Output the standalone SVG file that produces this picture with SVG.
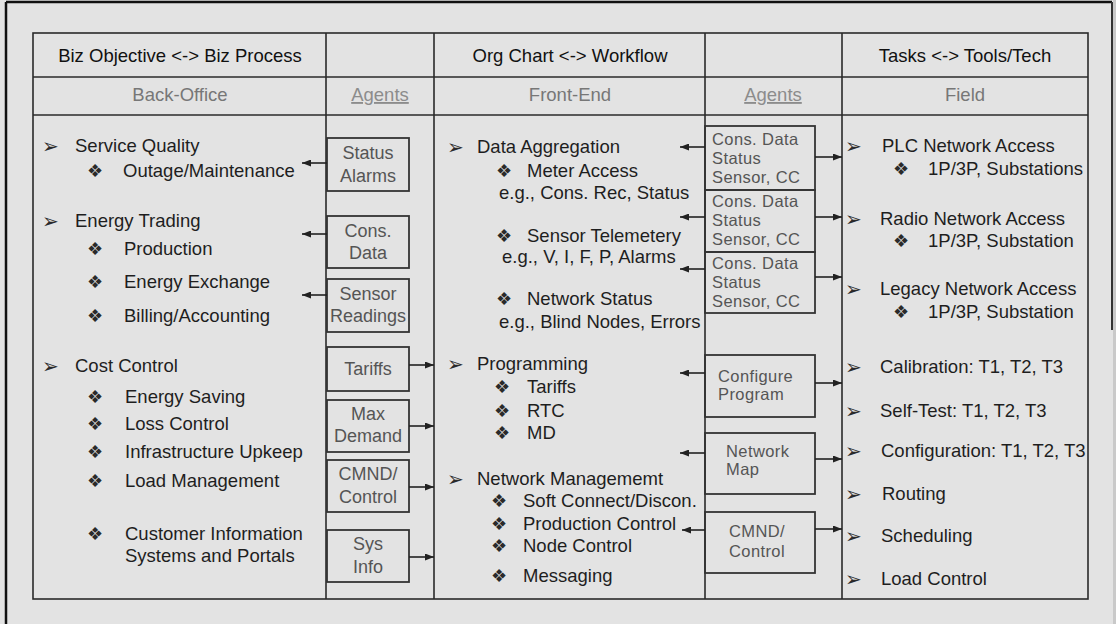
<svg xmlns="http://www.w3.org/2000/svg" width="1116" height="624" viewBox="0 0 1116 624">
<defs>
<style>
.t{font-family:"Liberation Sans",Arial,sans-serif;font-size:18.5px;fill:#1e1e1e}
.h{font-family:"Liberation Sans",Arial,sans-serif;font-size:18.5px;fill:#111;text-anchor:middle}
.sub{font-family:"Liberation Sans",Arial,sans-serif;font-size:18.5px;fill:#777;text-anchor:middle}
.ag{font-family:"Liberation Sans",Arial,sans-serif;font-size:18.5px;fill:#8c8c8c;text-anchor:middle;text-decoration:underline}
.bx{font-family:"Liberation Sans",Arial,sans-serif;font-size:18px;fill:#555}
.bm{font-family:"Liberation Sans",Arial,sans-serif;font-size:16.5px;letter-spacing:0.4px;fill:#555}
.bc{text-anchor:middle}
.b{font-family:"DejaVu Sans",sans-serif;font-size:20px;fill:#2a2a2a}
.d{font-family:"DejaVu Sans",sans-serif;font-size:18px;font-weight:bold;fill:#2a2a2a}
.box{fill:none;stroke:#333;stroke-width:1.8}
.grid{stroke:#2a2a2a;stroke-width:1.6;fill:none}
.con line{stroke:#222;stroke-width:1.6}
</style>
<marker id="ah" markerUnits="userSpaceOnUse" markerWidth="9" markerHeight="7" refX="9" refY="3.5" orient="auto">
<path d="M0,0 L9,3.5 L0,7 z" fill="#222"/>
</marker>
</defs>
<rect x="0" y="0" width="1116" height="624" fill="#e3e3e3"/>
<rect x="1113" y="0" width="3" height="624" fill="#c9c9c9"/>
<line x1="6" y1="2" x2="1112" y2="2" stroke="#111" stroke-width="2.5"/>
<line x1="6" y1="2" x2="6" y2="624" stroke="#111" stroke-width="2.5"/>
<line x1="1112" y1="2" x2="1112" y2="330" stroke="#333" stroke-width="2"/>

<g id="table">
<rect class="grid" x="33" y="33" width="1055" height="566" stroke-width="2.4"/>
<line class="grid" x1="33" y1="77" x2="1088" y2="77" stroke-width="2.2"/>
<line class="grid" x1="33" y1="115" x2="1088" y2="115" stroke-width="2.2"/>
<line class="grid" x1="326" y1="33" x2="326" y2="599"/>
<line class="grid" x1="434" y1="33" x2="434" y2="599"/>
<line class="grid" x1="705" y1="33" x2="705" y2="599"/>
<line class="grid" x1="842" y1="33" x2="842" y2="599"/>
</g>

<g id="headers">
<text class="h" x="180" y="62">Biz Objective &lt;-&gt; Biz Process</text>
<text class="h" x="570" y="62">Org Chart &lt;-&gt; Workflow</text>
<text class="h" x="965" y="62">Tasks &lt;-&gt; Tools/Tech</text>
<text class="sub" x="180" y="101">Back-Office</text>
<text class="ag" x="380" y="101">Agents</text>
<text class="sub" x="570" y="101">Front-End</text>
<text class="ag" x="773" y="101">Agents</text>
<text class="sub" x="965" y="101">Field</text>
</g>

<g id="back-office">
<text class="b" x="42" y="153">➢</text><text class="t" x="75" y="152">Service Quality</text>
<text class="d" x="87" y="177">❖</text><text class="t" x="123" y="177">Outage/Maintenance</text>
<text class="b" x="42" y="228">➢</text><text class="t" x="75" y="227">Energy Trading</text>
<text class="d" x="87" y="255">❖</text><text class="t" x="124" y="255">Production</text>
<text class="d" x="87" y="288">❖</text><text class="t" x="124" y="288">Energy Exchange</text>
<text class="d" x="87" y="322">❖</text><text class="t" x="124" y="322">Billing/Accounting</text>
<text class="b" x="42" y="373">➢</text><text class="t" x="75" y="372">Cost Control</text>
<text class="d" x="87" y="403">❖</text><text class="t" x="125" y="403">Energy Saving</text>
<text class="d" x="87" y="430">❖</text><text class="t" x="125" y="430">Loss Control</text>
<text class="d" x="87" y="458">❖</text><text class="t" x="125" y="458">Infrastructure Upkeep</text>
<text class="d" x="87" y="487">❖</text><text class="t" x="125" y="487">Load Management</text>
<text class="d" x="87" y="540">❖</text><text class="t" x="125" y="540">Customer Information</text>
<text class="t" x="125" y="562">Systems and Portals</text>
</g>

<g id="agent-status-alarms"><rect class="box" x="327" y="138" width="82" height="53"/><text class="bx bc" x="368" y="159">Status</text><text class="bx bc" x="368" y="182">Alarms</text></g>
<g id="agent-cons-data"><rect class="box" x="327" y="216" width="82" height="52"/><text class="bx bc" x="368" y="237">Cons.</text><text class="bx bc" x="368" y="259">Data</text></g>
<g id="agent-sensor-readings"><rect class="box" x="327" y="279" width="82" height="53"/><text class="bx bc" x="368" y="300">Sensor</text><text class="bx bc" x="368" y="322">Readings</text></g>
<g id="agent-tariffs"><rect class="box" x="327" y="347" width="82" height="44"/><text class="bx bc" x="368" y="375">Tariffs</text></g>
<g id="agent-max-demand"><rect class="box" x="327" y="400" width="82" height="52"/><text class="bx bc" x="368" y="420">Max</text><text class="bx bc" x="368" y="442">Demand</text></g>
<g id="agent-cmnd-left"><rect class="box" x="327" y="460" width="82" height="52"/><text class="bx bc" x="368" y="480">CMND/</text><text class="bx bc" x="368" y="503">Control</text></g>
<g id="agent-sys-info"><rect class="box" x="327" y="530" width="82" height="52"/><text class="bx bc" x="368" y="550">Sys</text><text class="bx bc" x="368" y="573">Info</text></g>

<g id="front-end">
<text class="b" x="447" y="154">➢</text><text class="t" x="477" y="153">Data Aggregation</text>
<text class="d" x="496" y="177">❖</text><text class="t" x="527" y="177">Meter Access</text>
<text class="t" x="499" y="199">e.g., Cons. Rec, Status</text>
<text class="d" x="496" y="242">❖</text><text class="t" x="527" y="242">Sensor Telemetery</text>
<text class="t" x="502" y="263">e.g., V, I, F, P, Alarms</text>
<text class="d" x="496" y="305">❖</text><text class="t" x="527" y="305">Network Status</text>
<text class="t" x="499" y="328">e.g., Blind Nodes, Errors</text>
<text class="b" x="447" y="371">➢</text><text class="t" x="477" y="370">Programming</text>
<text class="d" x="494" y="393">❖</text><text class="t" x="527" y="393">Tariffs</text>
<text class="d" x="494" y="417">❖</text><text class="t" x="527" y="417">RTC</text>
<text class="d" x="494" y="439">❖</text><text class="t" x="527" y="439">MD</text>
<text class="b" x="447" y="486">➢</text><text class="t" x="477" y="485">Network Managememt</text>
<text class="d" x="491" y="507">❖</text><text class="t" x="523" y="507">Soft Connect/Discon.</text>
<text class="d" x="491" y="530">❖</text><text class="t" x="523" y="530">Production Control</text>
<text class="d" x="491" y="552">❖</text><text class="t" x="523" y="552">Node Control</text>
<text class="d" x="491" y="582">❖</text><text class="t" x="523" y="582">Messaging</text>
</g>

<g id="agent-data-1"><rect class="box" x="705" y="126" width="110" height="64"/><text class="bm" x="712" y="145">Cons. Data</text><text class="bm" x="712" y="164">Status</text><text class="bm" x="712" y="183">Sensor, CC</text></g>
<g id="agent-data-2"><rect class="box" x="705" y="190" width="110" height="62"/><text class="bm" x="712" y="207">Cons. Data</text><text class="bm" x="712" y="226">Status</text><text class="bm" x="712" y="245">Sensor, CC</text></g>
<g id="agent-data-3"><rect class="box" x="705" y="252" width="110" height="61"/><text class="bm" x="712" y="269">Cons. Data</text><text class="bm" x="712" y="288">Status</text><text class="bm" x="712" y="307">Sensor, CC</text></g>
<g id="agent-configure"><rect class="box" x="705" y="355" width="110" height="62"/><text class="bm" x="718" y="382">Configure</text><text class="bm" x="718" y="400">Program</text></g>
<g id="agent-network-map"><rect class="box" x="705" y="433" width="110" height="61"/><text class="bm" x="726" y="457">Network</text><text class="bm" x="726" y="475">Map</text></g>
<g id="agent-cmnd-right"><rect class="box" x="705" y="512" width="110" height="61"/><text class="bm" x="729" y="537">CMND/</text><text class="bm" x="729" y="557">Control</text></g>

<g id="field">
<text class="b" x="845" y="153">➢</text><text class="t" x="882" y="152">PLC Network Access</text>
<text class="d" x="893" y="175">❖</text><text class="t" x="928" y="175">1P/3P, Substations</text>
<text class="b" x="845" y="226">➢</text><text class="t" x="880" y="225">Radio Network Access</text>
<text class="d" x="893" y="247">❖</text><text class="t" x="928" y="247">1P/3P, Substation</text>
<text class="b" x="845" y="296">➢</text><text class="t" x="880" y="295">Legacy Network Access</text>
<text class="d" x="893" y="318">❖</text><text class="t" x="928" y="318">1P/3P, Substation</text>
<text class="b" x="845" y="374">➢</text><text class="t" x="880" y="373">Calibration: T1, T2, T3</text>
<text class="b" x="845" y="418">➢</text><text class="t" x="880" y="417">Self-Test: T1, T2, T3</text>
<text class="b" x="845" y="458">➢</text><text class="t" x="881" y="457">Configuration: T1, T2, T3</text>
<text class="b" x="845" y="501">➢</text><text class="t" x="882" y="500">Routing</text>
<text class="b" x="845" y="543">➢</text><text class="t" x="881" y="542">Scheduling</text>
<text class="b" x="845" y="586">➢</text><text class="t" x="881" y="585">Load Control</text>
</g>

<g id="connectors" class="con">
<line x1="327" y1="163" x2="302" y2="163" marker-end="url(#ah)"/>
<line x1="327" y1="234" x2="302" y2="234" marker-end="url(#ah)"/>
<line x1="327" y1="295" x2="302" y2="295" marker-end="url(#ah)"/>
<line x1="409" y1="365" x2="434" y2="365" marker-end="url(#ah)"/>
<line x1="409" y1="426" x2="434" y2="426" marker-end="url(#ah)"/>
<line x1="409" y1="487" x2="434" y2="487" marker-end="url(#ah)"/>
<line x1="409" y1="557" x2="434" y2="557" marker-end="url(#ah)"/>
<line x1="705" y1="147" x2="680" y2="147" marker-end="url(#ah)"/>
<line x1="705" y1="217" x2="680" y2="217" marker-end="url(#ah)"/>
<line x1="705" y1="269" x2="680" y2="269" marker-end="url(#ah)"/>
<line x1="705" y1="373" x2="680" y2="373" marker-end="url(#ah)"/>
<line x1="705" y1="453" x2="680" y2="453" marker-end="url(#ah)"/>
<line x1="705" y1="530" x2="682" y2="530" marker-end="url(#ah)"/>
<line x1="815" y1="157" x2="842" y2="157" marker-end="url(#ah)"/>
<line x1="815" y1="217" x2="842" y2="217" marker-end="url(#ah)"/>
<line x1="815" y1="277" x2="842" y2="277" marker-end="url(#ah)"/>
<line x1="815" y1="383" x2="842" y2="383" marker-end="url(#ah)"/>
<line x1="815" y1="459" x2="842" y2="459" marker-end="url(#ah)"/>
<line x1="815" y1="529" x2="842" y2="529" marker-end="url(#ah)"/>
</g>
</svg>
